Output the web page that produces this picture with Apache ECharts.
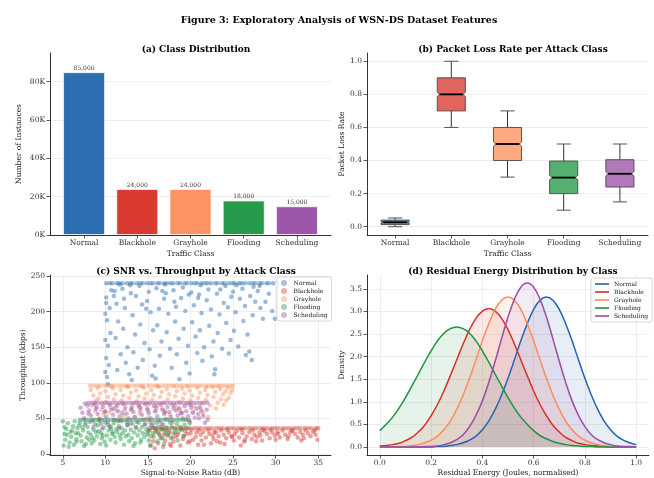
<!DOCTYPE html>
<html><head><meta charset="utf-8">
<script src="https://cdn.jsdelivr.net/npm/echarts@6/dist/echarts.min.js"></script>
<style>html,body{margin:0;padding:0;background:#fff}#c{width:654px;height:478px}</style>
</head><body><div id="c"></div>
<script>
// ---------------- data ----------------
const classes = ['Normal','Blackhole','Grayhole','Flooding','Scheduling'];
const colors = ['#2166ac','#d73027','#fc8d59','#1a9641','#984ea3'];

// (a) class distribution
const instanceCounts = [85000, 24000, 24000, 18000, 15000];
const countTicks = [0, 20000, 40000, 60000, 80000];

// (b) packet loss rate box statistics
const plrMin = [0.000, 0.60, 0.30, 0.10, 0.15];
const plrQ1  = [0.013, 0.70, 0.40, 0.20, 0.24];
const plrMed = [0.027, 0.80, 0.50, 0.297, 0.32];
const plrQ3  = [0.040, 0.90, 0.60, 0.397, 0.405];
const plrMax = [0.053, 1.00, 0.70, 0.50, 0.50];
const plrTicks = [0, 0.2, 0.4, 0.6, 0.8, 1.0];

// (c) SNR vs throughput
const snrTicks = [5, 10, 15, 20, 25, 30, 35];
const thrTicks = [0, 50, 100, 150, 200, 250];
const normalPts = [[10.2,108],[10.4,125],[10.1,135],[10.3,152],[10.6,170],[10.2,188],[10.5,205],[10.1,220],[10.7,230],[10.3,98],
[11.0,222],[11.3,211],[11.5,186],[11.2,163],[11.8,140],[11.4,118],[12.0,232],[12.3,205],[12.1,176],[12.6,150],
[12.4,128],[12.8,112],[13.0,226],[13.2,195],[13.5,168],[13.3,143],[13.8,121],[13.1,104],[14.0,236],[14.3,210],
[14.1,182],[14.6,156],[14.4,132],[14.9,215],[15.1,228],[15.3,199],[15.6,174],[15.2,147],[15.8,124],[15.5,110],
[16.0,233],[16.3,204],[16.1,181],[16.6,158],[16.4,138],[16.9,218],[17.1,226],[17.4,197],[17.2,171],[17.6,148],
[17.8,121],[18.0,230],[18.3,207],[18.2,186],[18.6,162],[18.4,140],[18.9,219],[19.1,234],[19.4,201],[19.2,176],
[19.7,152],[19.5,128],[19.9,113],[20.1,227],[20.4,209],[20.2,185],[20.6,165],[20.8,142],[21.0,224],[21.3,198],
[21.1,174],[21.6,150],[21.4,131],[21.9,216],[22.1,231],[22.4,203],[22.2,180],[22.7,158],[22.5,137],[22.9,119],
[23.1,225],[23.4,196],[23.2,170],[23.7,148],[23.9,212],[24.1,236],[24.4,206],[24.2,184],[24.7,160],[24.5,141],
[25.0,228],[25.3,199],[25.1,173],[25.6,151],[25.8,218],[26.1,232],[26.4,208],[26.2,187],[26.7,168],[26.5,139],
[27.0,222],[27.3,195],[27.2,132],[27.6,214],[27.9,229],[28.2,205],[28.5,190],[28.8,214],[29.2,225],[29.6,201],
[29.9,190],[26.9,144],[22.8,112],[18.7,105],[15.9,106],[12.9,237],[17.0,238],[21.2,237],[25.4,237],[11.7,238],
[10.0,115],[10.0,160],[10.0,197],[10.1,212],[11.1,229],[13.6,222],[16.7,229],[19.8,224],[23.5,231],[27.4,235],
[12.2,218],[14.8,204],[18.1,214],[20.9,219],[24.8,221],[28.1,236]];
const normalCapX = [10.1,10.5,10.8,11.3,11.6,12.0,12.5,12.9,13.2,13.7,14.1,14.4,14.9,15.3,15.6,16.1,16.4,16.9,17.3,17.7,
18.0,18.5,18.8,19.3,19.6,20.1,20.5,20.8,21.3,21.7,22.0,22.4,22.9,23.2,23.7,24.0,24.5,24.9,25.2,25.7,26.0,26.4,26.9,27.3,
27.6,28.1,28.4,28.9,29.2,29.7];
const blackholePts = [[15.3,12],[15.6,18],[15.4,25],[15.9,31],[16.2,15],[16.5,22],[16.3,28],[16.8,10],[17.0,19],[17.3,26],
[17.1,33],[17.6,14],[17.9,23],[18.2,30],[18.0,17],[18.5,27],[18.8,12],[19.1,21],[19.4,32],[19.2,25],[19.7,16],[20.0,29],
[20.3,20],[20.1,34],[20.6,24],[20.9,13],[21.2,27],[21.5,31],[21.3,19],[21.8,23],[22.1,33],[22.4,15],[22.2,28],[22.7,21],
[23.0,30],[23.3,25],[23.1,18],[23.6,33],[23.9,27],[24.2,22],[24.0,14],[24.5,30],[24.8,25],[25.1,19],[25.4,32],[25.2,28],
[25.7,23],[26.0,34],[26.3,17],[26.1,29],[26.6,25],[26.9,31],[27.2,21],[27.5,27],[27.3,33],[27.8,24],[28.1,30],[28.4,19],
[28.2,26],[28.7,32],[29.0,28],[29.3,22],[29.6,30],[29.4,34],[29.9,26],[30.2,31],[30.5,23],[30.3,28],[30.8,33],[31.1,27],
[31.4,21],[31.7,30],[31.5,25],[32.0,32],[32.3,28],[32.6,23],[32.9,31],[33.2,27],[33.5,33],[33.3,22],[33.8,29],[34.1,25],
[34.4,31],[34.7,27],[34.9,20],[34.6,33],[16.0,34],[17.5,30],[18.9,35],[19.6,28],[21.0,33],[22.8,31],[24.3,34],[26.4,20],
[28.5,34],[30.0,20],[31.9,34],[33.0,19],[15.8,8],[17.7,11],[19.9,18],[21.6,13],[23.5,16],[25.9,12],[27.7,18],[16.7,35],
[15.1,33],[16.9,27],[18.3,24],[20.7,30],[22.6,26],[24.9,24]];
const blackholeCapX = [15.2,15.6,16.0,16.5,16.9,17.3,17.8,18.2,18.6,19.1,19.5,19.9,20.4,20.8,21.2,21.7,22.1,22.5,23.0,23.4,
23.8,24.3,24.7,25.1,25.6,26.0,26.4,26.9,27.3,27.7,28.2,28.6,29.0,29.5,29.9,30.3,30.8,31.2,31.6,32.1,32.5,32.9,33.4,33.8,
34.2,34.7,35.0];
const grayholePts = [[8.3,90],[8.6,82],[8.9,75],[8.4,68],[9.1,93],[9.4,85],[9.2,78],[9.7,70],[9.5,62],[10.0,88],[10.3,80],
[10.1,73],[10.6,66],[10.4,58],[10.9,92],[11.2,84],[11.0,77],[11.5,69],[11.3,61],[11.8,90],[12.1,82],[11.9,75],[12.4,67],
[12.2,54],[12.7,94],[13.0,86],[12.8,79],[13.3,71],[13.1,63],[13.6,89],[13.9,81],[13.7,74],[14.2,65],[14.0,57],[14.5,93],
[14.8,85],[14.6,78],[15.1,70],[14.9,50],[15.4,90],[15.7,83],[15.5,76],[16.0,68],[15.8,60],[16.3,94],[16.6,87],[16.4,80],
[16.9,72],[16.7,64],[17.2,91],[17.5,84],[17.3,77],[17.8,69],[17.6,55],[18.1,95],[18.4,88],[18.2,81],[18.7,73],[18.5,65],
[19.0,92],[19.3,85],[19.1,78],[19.6,70],[19.4,48],[19.9,89],[20.2,82],[20.0,75],[20.5,67],[20.3,59],[20.8,93],[21.1,86],
[20.9,79],[21.4,71],[21.2,63],[21.7,90],[22.0,83],[21.8,76],[22.3,68],[22.1,52],[22.6,94],[22.9,87],[22.7,80],[23.2,72],
[23.0,64],[23.5,91],[23.8,84],[23.6,77],[24.1,88],[23.9,69],[24.4,93],[24.7,86],[24.5,79],[24.9,90],[9.8,55],[11.6,47],
[13.4,52],[15.2,45],[17.0,58],[18.8,60],[21.5,57],[10.7,95],[12.5,95],[14.3,95],[16.1,95],[19.7,95],[21.9,94],[23.3,95],
[8.8,60],[9.3,50],[24.2,75]];
const grayholeCapX = [8.2,8.6,9.0,9.4,9.9,10.3,10.7,11.1,11.6,12.0,12.4,12.8,13.3,13.7,14.1,14.5,15.0,15.4,15.8,16.2,16.7,
17.1,17.5,17.9,18.4,18.8,19.2,19.6,20.1,20.5,20.9,21.3,21.8,22.2,22.6,23.0,23.5,23.9,24.3,24.7,25.0];
const floodingPts = [[5.1,12],[5.3,20],[5.2,28],[5.4,35],[5.6,43],[5.8,16],[6.0,24],[5.9,31],[6.2,39],[6.4,46],[6.3,13],
[6.6,21],[6.8,29],[6.7,36],[7.0,44],[7.2,18],[7.1,26],[7.4,33],[7.6,41],[7.5,11],[7.8,23],[8.0,30],[7.9,38],[8.2,45],
[8.4,15],[8.3,27],[8.6,34],[8.8,42],[8.7,19],[9.0,25],[9.2,32],[9.1,40],[9.4,14],[9.6,22],[9.5,29],[9.8,37],[10.0,44],
[9.9,17],[10.2,26],[10.4,33],[10.3,41],[10.6,20],[10.8,28],[10.7,35],[11.0,43],[11.2,16],[11.1,24],[11.4,31],[11.6,39],
[11.5,46],[11.8,21],[12.0,29],[11.9,36],[12.2,13],[12.4,25],[12.3,33],[12.6,41],[12.8,18],[12.7,27],[13.0,34],[13.2,42],
[13.1,22],[13.4,30],[13.6,37],[13.5,15],[13.8,26],[14.0,33],[13.9,44],[14.2,20],[14.4,29],[14.3,38],[14.6,24],[14.8,35],
[14.7,42],[15.0,27],[15.2,33],[15.1,19],[15.4,40],[15.6,29],[15.8,36],[15.7,24],[16.0,43],[16.2,31],[16.4,26],[16.3,38],
[16.6,34],[16.8,41],[16.7,22],[17.0,30],[17.2,37],[17.4,27],[17.6,44],[17.5,33],[17.8,39],[18.0,29],[18.2,35],[18.4,42],
[18.6,31],[18.8,38],[19.0,34],[19.3,41],[19.6,36],[19.9,43],[6.1,33],[6.9,40],[7.7,14],[8.5,22],[9.3,46],[10.1,12],
[10.9,30],[11.7,26],[12.5,45],[13.3,11],[14.1,16],[14.9,30],[15.3,12],[16.1,18],[16.9,14],[17.7,22],[18.5,19],[19.2,26],
[5.5,27],[6.5,29],[7.3,37],[8.1,20],[8.9,31],[9.7,26],[10.5,38],[11.3,35],[5.0,46],[5.2,38],[5.7,10],[6.6,17]];
const floodingCapX = [7.0,7.4,7.7,8.1,8.5,8.8,9.2,9.6,9.9,10.3,10.7,11.0,11.4,11.8,12.1,12.5,12.9,13.2,13.6,14.0,14.3,
14.7,15.1,15.4,15.8,16.2,16.5,16.9,17.3,17.6,18.0,18.4,18.7,19.1,19.5,19.8];
const schedulingPts = [[7.1,65],[7.3,58],[7.5,50],[7.7,44],[7.9,68],[8.1,61],[8.3,54],[8.5,47],[8.7,70],[8.9,63],[9.1,56],
[9.3,49],[9.5,42],[9.7,66],[9.9,59],[10.1,52],[10.3,45],[10.5,69],[10.7,62],[10.9,55],[11.1,48],[11.3,67],[11.5,60],
[11.7,53],[11.9,46],[12.1,70],[12.3,63],[12.5,57],[12.7,50],[12.9,43],[13.1,66],[13.3,59],[13.5,52],[13.7,45],[13.9,68],
[14.1,61],[14.3,55],[14.5,48],[14.7,70],[14.9,64],[15.1,57],[15.3,50],[15.5,43],[15.7,67],[15.9,60],[16.1,53],[16.3,46],
[16.5,69],[16.7,62],[16.9,56],[17.1,49],[17.3,66],[17.5,59],[17.7,52],[17.9,45],[18.1,68],[18.3,61],[18.5,54],[18.7,64],
[18.9,57],[19.1,50],[19.3,67],[19.5,60],[19.7,53],[19.9,46],[20.1,65],[20.3,58],[20.5,51],[20.7,63],[20.9,56],[21.1,66],
[21.3,60],[21.5,53],[21.7,44],[21.9,62],[7.6,71],[8.6,38],[9.6,35],[10.6,39],[11.6,36],[12.6,40],[13.6,37],[14.6,41],
[15.6,38],[16.6,42],[8.0,57],[9.0,66],[10.0,60],[11.0,64],[12.0,58],[13.0,62],[14.0,66],[15.0,61],[16.0,65],[17.0,60],
[18.0,64],[19.0,58],[20.0,69],[21.0,50],[22.0,48]];
const schedulingCapX = [8.0,8.4,8.8,9.2,9.6,10.0,10.4,10.8,11.2,11.6,12.0,12.4,12.8,13.2,13.6,14.0,14.4,14.8,15.2,15.6,
16.0,16.4,16.8,17.2,17.6,18.0,18.4,18.8,19.2,19.6,20.0,20.4,20.8,21.2,21.6,22.0];
const capLevels = [240, 36, 96, 48, 72];

// (d) residual energy density
const energyX = [0,0.025,0.05,0.075,0.1,0.125,0.15,0.175,0.2,0.225,0.25,0.275,0.3,0.325,0.35,0.375,0.4,0.425,0.45,0.475,
0.5,0.525,0.55,0.575,0.6,0.625,0.65,0.675,0.7,0.725,0.75,0.775,0.8,0.825,0.85,0.875,0.9,0.925,0.95,0.975,1.0];
const densNormal = [0,0,0,0,0,0,0,0,0,0.01,0.01,0.03,0.05,0.09,0.15,0.24,0.38,0.57,0.83,1.15,1.52,1.93,2.35,2.73,3.05,3.25,
3.32,3.25,3.05,2.73,2.35,1.93,1.52,1.15,0.83,0.57,0.38,0.24,0.15,0.09,0.05];
const densBlackhole = [0.02,0.03,0.05,0.08,0.14,0.21,0.33,0.48,0.69,0.94,1.24,1.58,1.93,2.28,2.60,2.85,3.01,3.07,3.01,2.85,
2.60,2.28,1.93,1.58,1.24,0.94,0.69,0.48,0.33,0.21,0.14,0.08,0.05,0.03,0.02,0.01,0,0,0,0,0];
const densGrayhole = [0,0,0,0.01,0.01,0.03,0.05,0.09,0.15,0.24,0.38,0.57,0.83,1.15,1.52,1.93,2.35,2.73,3.05,3.25,3.32,3.25,
3.05,2.73,2.35,1.93,1.52,1.15,0.83,0.57,0.38,0.24,0.15,0.09,0.05,0.03,0.01,0.01,0,0,0];
const densFlooding = [0.36,0.50,0.66,0.86,1.09,1.35,1.61,1.88,2.13,2.35,2.52,2.62,2.66,2.62,2.52,2.35,2.13,1.88,1.61,1.35,
1.09,0.86,0.66,0.50,0.36,0.25,0.18,0.12,0.08,0.05,0.03,0.02,0.01,0.01,0,0,0,0,0,0,0];
const densScheduling = [0,0,0,0,0,0,0,0.01,0.01,0.02,0.05,0.09,0.16,0.27,0.45,0.70,1.02,1.43,1.90,2.40,2.88,3.27,3.54,3.63,
3.54,3.27,2.88,2.40,1.90,1.43,1.02,0.70,0.45,0.27,0.16,0.09,0.05,0.02,0.01,0.01,0];
const energyTicks = [0, 0.2, 0.4, 0.6, 0.8, 1.0];
const densTicks = [0, 0.5, 1.0, 1.5, 2.0, 2.5, 3.0, 3.5];

// ---------------- helpers ----------------
const FONT = 'DejaVu Serif';
function rgba(hex, a) {
  const n = parseInt(hex.slice(1), 16);
  return `rgba(${(n>>16)&255},${(n>>8)&255},${n&255},${a})`;
}
const axisLineStyle = {show: true, onZero: false, lineStyle: {color: '#333', width: 1}};
const tickStyle = {show: true, length: 3.5, lineStyle: {color: '#333', width: 0.8}};
const labelBase = {color: '#333', fontSize: 7.5, fontFamily: FONT};
const gridLine = {show: true, lineStyle: {color: '#e9e9e9', width: 0.8}};
const nameStyle = {color: '#222', fontSize: 7.5, fontFamily: FONT};

function valAxis(idx, opts) {
  const o = Object.assign({
    type: 'value', gridIndex: idx, axisLine: axisLineStyle,
    axisTick: Object.assign({}, tickStyle, opts.ticks ? {customValues: opts.ticks} : {}),
    axisLabel: Object.assign({}, labelBase, {margin: opts.margin || 5, formatter: opts.fmt},
      opts.ticks ? {customValues: opts.ticks} : {}),
    splitLine: opts.grid ? gridLine : {show: false},
    nameLocation: 'middle', nameTextStyle: nameStyle
  }, opts.extra || {});
  return o;
}

const scatterSets = [
  normalPts.concat(normalCapX.map(x => [x, capLevels[0]])),
  blackholePts.concat(blackholeCapX.map(x => [x, capLevels[1]])),
  grayholePts.concat(grayholeCapX.map(x => [x, capLevels[2]])),
  floodingPts.concat(floodingCapX.map(x => [x, capLevels[3]])),
  schedulingPts.concat(schedulingCapX.map(x => [x, capLevels[4]]))
];
const densSets = [densNormal, densBlackhole, densGrayhole, densFlooding, densScheduling];

function renderBox(params, api) {
  const i = api.value(0);
  const vmin = api.value(1), q1 = api.value(2), med = api.value(3), q3 = api.value(4), vmax = api.value(5);
  const band = api.size([1, 0])[0];
  const bw = band * 0.5, hw = bw / 2;
  const cx = api.coord([i, med])[0];
  const y = v => api.coord([i, v])[1];
  const inset = bw * 0.08;
  const nh = Math.min(0.014, (q3 - q1) * 0.15);
  const L = cx - hw, R = cx + hw;
  const pts = [[L, y(q1)], [R, y(q1)], [R, y(med - nh)], [R - inset, y(med)], [R, y(med + nh)], [R, y(q3)],
    [L, y(q3)], [L, y(med + nh)], [L + inset, y(med)], [L, y(med - nh)]];
  const capW = bw * 0.25;
  const fill = rgba(colors[params.dataIndex], 0.75);
  return {type: 'group', children: [
    {type: 'line', shape: {x1: cx, y1: y(q3), x2: cx, y2: y(vmax)}, style: {stroke: '#333', lineWidth: 1}},
    {type: 'line', shape: {x1: cx, y1: y(q1), x2: cx, y2: y(vmin)}, style: {stroke: '#333', lineWidth: 1}},
    {type: 'line', shape: {x1: cx - capW, y1: y(vmax), x2: cx + capW, y2: y(vmax)}, style: {stroke: '#555', lineWidth: 1}},
    {type: 'line', shape: {x1: cx - capW, y1: y(vmin), x2: cx + capW, y2: y(vmin)}, style: {stroke: '#555', lineWidth: 1}},
    {type: 'polygon', shape: {points: pts}, style: {fill: fill, stroke: '#555', lineWidth: 1}},
    {type: 'line', shape: {x1: L + inset, y1: y(med), x2: R - inset, y2: y(med)}, style: {stroke: '#000', lineWidth: 1.8}}
  ]};
}

const option = {
  animation: false,
  backgroundColor: '#fff',
  textStyle: {fontFamily: FONT},
  title: [
    {text: 'Figure 3: Exploratory Analysis of WSN-DS Dataset Features', left: 334, top: 11, textAlign: 'center',
      textStyle: {fontFamily: FONT, fontWeight: 'bold', fontSize: 9.5, color: '#000'}},
    {text: '(a) Class Distribution', left: 191, top: 40, textAlign: 'center',
      textStyle: {fontFamily: FONT, fontWeight: 'bold', fontSize: 9, color: '#000'}},
    {text: '(b) Packet Loss Rate per Attack Class', left: 508, top: 40, textAlign: 'center',
      textStyle: {fontFamily: FONT, fontWeight: 'bold', fontSize: 9, color: '#000'}},
    {text: '(c) SNR vs. Throughput by Attack Class', left: 191, top: 262, textAlign: 'center',
      textStyle: {fontFamily: FONT, fontWeight: 'bold', fontSize: 9, color: '#000'}},
    {text: '(d) Residual Energy Distribution by Class', left: 508, top: 262, textAlign: 'center',
      textStyle: {fontFamily: FONT, fontWeight: 'bold', fontSize: 9, color: '#000'}}
  ],
  grid: [
    {left: 50, top: 53, width: 281, height: 182},
    {left: 367, top: 53, width: 281, height: 182},
    {left: 50, top: 275, width: 281, height: 182},
    {left: 367, top: 275, width: 282, height: 182}
  ],
  legend: [
    {orient: 'vertical', left: 277, top: 277, padding: [3, 4, 3, 4], itemGap: 2, itemWidth: 9, itemHeight: 6,
      backgroundColor: 'rgba(255,255,255,0.85)', borderColor: '#ccc', borderWidth: 0.8, borderRadius: 2,
      textStyle: {fontFamily: FONT, fontSize: 6, color: '#222'},
      formatter: n => n.slice(2),
      data: classes.map((n, i) => ({name: 'c:' + n, icon: 'circle', itemStyle: {color: colors[i], opacity: 0.4}}))},
    {orient: 'vertical', left: 591, top: 278, padding: [3, 4, 3, 4], itemGap: 2, itemWidth: 14, itemHeight: 1.6,
      backgroundColor: 'rgba(255,255,255,0.85)', borderColor: '#ccc', borderWidth: 0.8, borderRadius: 2,
      textStyle: {fontFamily: FONT, fontSize: 6, color: '#222', lineHeight: 6},
      formatter: n => n.slice(2),
      data: classes.map((n, i) => ({name: 'd:' + n, icon: 'rect', itemStyle: {color: colors[i]}}))}
  ],
  xAxis: [
    valAxis(0, {ticks: [0, 1, 2, 3, 4], fmt: v => classes[Math.round(v)], margin: 4.5,
      extra: {min: -0.64, max: 4.64, name: 'Traffic Class', nameGap: 15}}),
    {type: 'category', gridIndex: 1, data: classes, axisLine: axisLineStyle,
      axisTick: Object.assign({alignWithLabel: true}, tickStyle),
      axisLabel: Object.assign({}, labelBase, {margin: 4.5, interval: 0}),
      splitLine: {show: false}, name: 'Traffic Class', nameLocation: 'middle', nameGap: 15, nameTextStyle: nameStyle},
    valAxis(2, {ticks: snrTicks, fmt: v => String(v), grid: true, margin: 4.5,
      extra: {min: 3.5, max: 36.5, name: 'Signal-to-Noise Ratio (dB)', nameGap: 14}}),
    valAxis(3, {ticks: energyTicks, fmt: v => v.toFixed(1), grid: true, margin: 4.5,
      extra: {min: -0.05, max: 1.05, name: 'Residual Energy (Joules, normalised)', nameGap: 14}})
  ],
  yAxis: [
    valAxis(0, {ticks: countTicks, fmt: v => (v / 1000) + 'K', grid: true,
      extra: {min: 0, max: 95000, name: 'Number of Instances', nameGap: 27}}),
    valAxis(1, {ticks: plrTicks, fmt: v => v.toFixed(1), grid: true,
      extra: {min: -0.05, max: 1.05, name: 'Packet Loss Rate', nameGap: 21}}),
    valAxis(2, {ticks: thrTicks, fmt: v => String(v), grid: true,
      extra: {min: -1.5, max: 251.5, name: 'Throughput (kbps)', nameGap: 22}}),
    valAxis(3, {ticks: densTicks, fmt: v => v.toFixed(1), grid: true,
      extra: {min: -0.18, max: 3.81, name: 'Density', nameGap: 21}})
  ],
  series: [].concat(
    [{type: 'bar', xAxisIndex: 0, yAxisIndex: 0, barWidth: 42,
      data: instanceCounts.map((v, i) => ({value: [i, v],
        itemStyle: {color: colors[i], opacity: 0.95, borderColor: 'rgba(255,255,255,0.7)', borderWidth: 1}})),
      label: {show: true, position: 'top', distance: 1, fontSize: 6, fontFamily: FONT, color: '#333',
        formatter: p => p.value[1].toLocaleString('en-US')}}],
    [{type: 'custom', xAxisIndex: 1, yAxisIndex: 1, renderItem: renderBox,
      encode: {x: 0, y: [1, 2, 3, 4, 5]},
      data: classes.map((c, i) => [i, plrMin[i], plrQ1[i], plrMed[i], plrQ3[i], plrMax[i]])}],
    classes.map((n, i) => ({type: 'scatter', name: 'c:' + n, xAxisIndex: 2, yAxisIndex: 2, symbolSize: 4.5,
      itemStyle: {color: colors[i], opacity: 0.45}, data: scatterSets[i]})),
    classes.map((n, i) => ({type: 'line', name: 'd:' + n, xAxisIndex: 3, yAxisIndex: 3, smooth: 0.4,
      showSymbol: false, symbol: 'none', lineStyle: {color: colors[i], width: 1.5},
      itemStyle: {color: colors[i]},
      areaStyle: {color: colors[i], opacity: 0.11, origin: 0},
      data: energyX.map((x, k) => [x, densSets[i][k]])}))
  )
};
const chart = echarts.init(document.getElementById('c'), null, {renderer: 'canvas'});
chart.setOption(option);
</script>
</body></html>
